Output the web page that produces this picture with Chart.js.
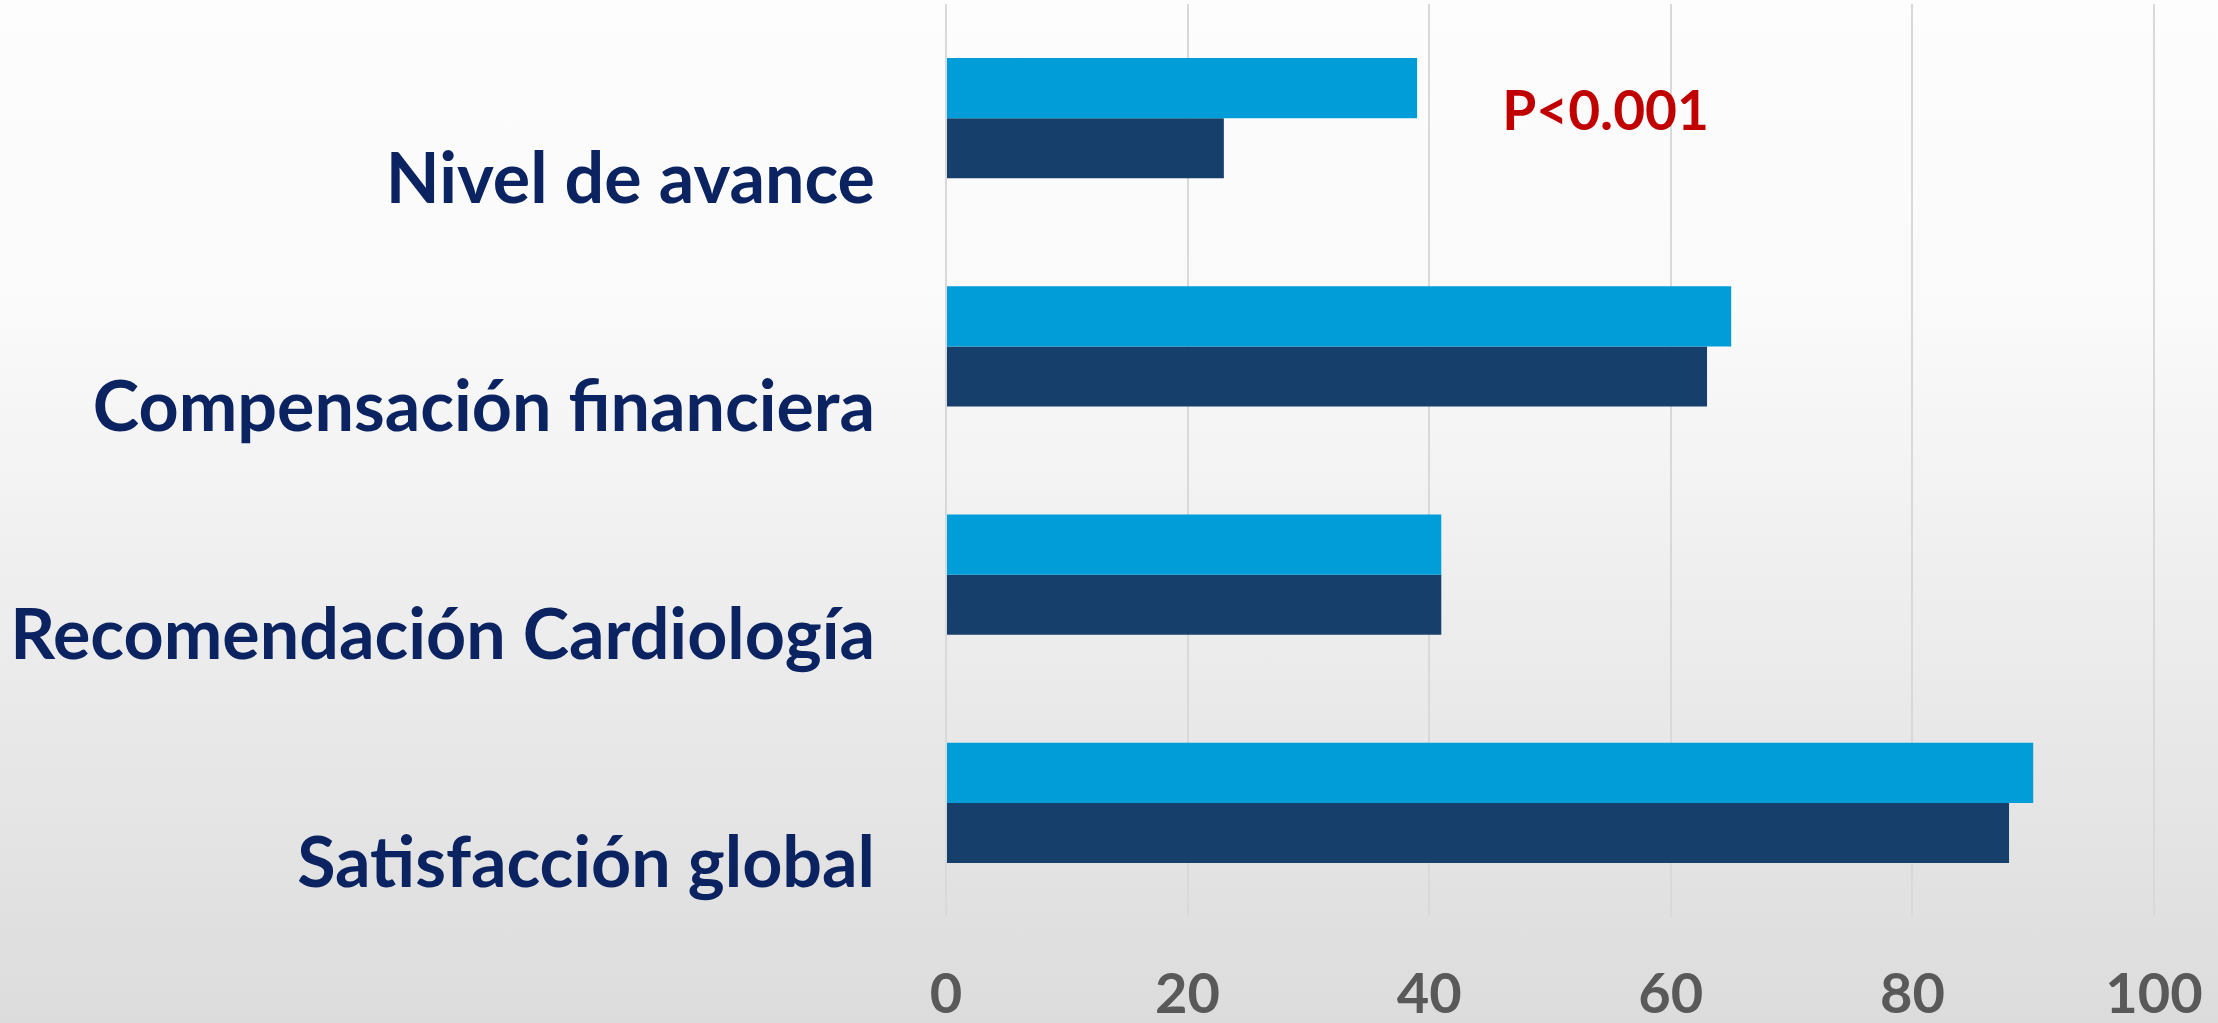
<!DOCTYPE html>
<html>
<head>
<meta charset="utf-8">
<script src="https://cdn.jsdelivr.net/npm/chart.js@4/dist/chart.umd.min.js"></script>
<style>
	html, body { margin: 0; padding: 0; }
	body {
		width: 2218px; height: 1023px; overflow: hidden;
		background: linear-gradient(#fdfdfd 0%, #fafafa 30%, #dcdcdc 100%);
	}
	#wrap { width: 2218px; height: 1023px; }
</style>
</head>
<body>
<div id="wrap"><canvas id="canvas"></canvas></div>
<script>
// datos
var categorias = ["Nivel de avance", "Compensación financiera", "Recomendación Cardiología", "Satisfacción global"];
var serieClara = [39, 65, 41, 90];
var serieOscura = [23, 63, 41, 88];
var ticksX = [0, 20, 40, 60, 80, 100];
var nota = "P<0.001";

// texto P<0.001 junto a la primera categoria
var notaPlugin = {
	id: "nota",
	afterDraw: function(chart) {
		var ctx = chart.ctx;
		var x = chart.scales.x.getPixelForValue(54.6);
		var y = chart.scales.y.getPixelForValue(0) - 6;
		ctx.save();
		ctx.font = "bold 55px Lato";
		ctx.fillStyle = "#c00000";
		ctx.textAlign = "center";
		ctx.textBaseline = "middle";
		ctx.fillText(nota, x, y);
		ctx.restore();
	}
};

var ctx = document.getElementById("canvas").getContext("2d");
var chart = new Chart(ctx, {
	type: "bar",
	data: {
		labels: categorias,
		datasets: [
			{ label: "Serie 1", data: serieClara, backgroundColor: "#009dd8", categoryPercentage: 0.526, barPercentage: 1 },
			{ label: "Serie 2", data: serieOscura, backgroundColor: "#173f6b", categoryPercentage: 0.526, barPercentage: 1 }
		]
	},
	options: {
		indexAxis: "y",
		responsive: true,
		maintainAspectRatio: false,
		animation: false,
		layout: { padding: { top: 4, right: 64, left: 0, bottom: 0 } },
		plugins: {
			legend: { display: false },
			tooltip: { enabled: false }
		},
		scales: {
			x: {
				min: 0,
				max: 100,
				afterBuildTicks: function(scale) {
					scale.ticks = ticksX.map(function(v) { return { value: v }; });
				},
				afterFit: function(scale) {
					scale.height = 106;
					scale.paddingLeft = 0;
					scale.paddingRight = 0;
				},
				grid: { color: "#d9d9d9", lineWidth: 2, drawTicks: false },
				border: { display: false },
				ticks: {
					color: "#595959",
					font: { family: "Lato", size: 56, weight: "bold" },
					padding: 44,
					maxRotation: 0
				}
			},
			y: {
				afterFit: function(scale) {
					scale.width = 946;
					scale.paddingTop = 0;
					scale.paddingBottom = 0;
				},
				grid: { display: false, drawTicks: false },
				border: { display: false },
				ticks: {
					color: "#0b2361",
					font: { family: "Lato", size: 70, weight: "bold" },
					padding: 71,
					labelOffset: 62
				}
			}
		}
	},
	plugins: [notaPlugin]
});
</script>
</body>
</html>
